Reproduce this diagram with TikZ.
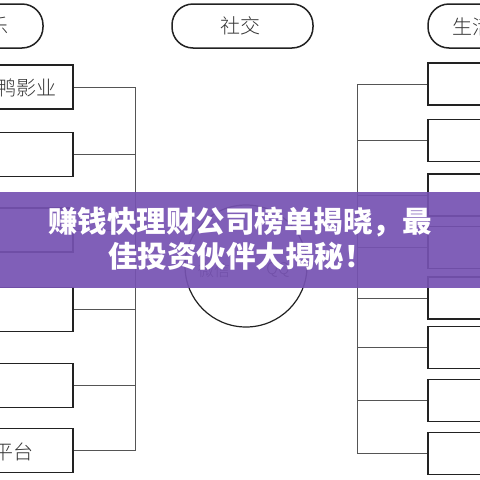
\documentclass[tikz,border=0pt]{standalone}
\usepackage{fontspec}
\newfontfamily\cjk{Noto Sans CJK SC Light}
\newfontfamily\cjkb{Noto Sans CJK SC Black}
\definecolor{boxline}{HTML}{222222}
\definecolor{connline}{HTML}{555555}
\definecolor{txt}{HTML}{333333}
\definecolor{banner}{RGB}{118,82,178}
\begin{document}
\begin{tikzpicture}[x=1pt,y=-1pt,
  hdr/.style={draw=boxline,line width=1.5pt,rounded corners=21pt,minimum height=44pt,inner sep=0pt},
  lbox/.style={draw=boxline,line width=1.6pt,minimum width=140pt,minimum height=44pt,inner sep=0pt},
  rbox/.style={draw=boxline,line width=1.6pt,minimum width=140pt,minimum height=42pt,inner sep=0pt},
  conn/.style={draw=connline,line width=0.9pt},
  lbl/.style={font=\cjk\fontsize{20}{20}\selectfont,text=txt,inner sep=0pt},
  bantext/.style={font=\cjkb\fontsize{29.5}{29.5}\selectfont,text=white,inner sep=0pt}]
\useasboundingbox (0,0) rectangle (480,480);
\clip (0,0) rectangle (480,480);
\fill[white] (0,0) rectangle (480,480);
% headers
\node[hdr,minimum width=150pt] (hL) at (-32,26) {};
\node[hdr,minimum width=141pt] (hM) at (242.5,26) {};
\node[hdr,minimum width=150pt] (hR) at (503,26) {};
\node[lbl,anchor=east] (tL) at (9,26) {娱乐};
\node[lbl] (tM) at (240.5,26) {社交};
\node[lbl,anchor=west] (tR) at (452,27) {生活};
% left boxes
\node[lbox] (L1) at (3,87) {};
\node[lbox] (L2) at (3,154.5) {};
\node[lbox] (L3) at (3,230) {};
\node[lbox] (L4) at (3,309.5) {};
\node[lbox] (L5) at (3,385.5) {};
\node[lbox] (L6) at (3,450.5) {};
\node[lbl,anchor=east] (tL1) at (57,88) {鸭影业};
\node[lbl,anchor=east] (tL6) at (34,452) {平台};
% right boxes
\node[rbox] (R1) at (498,84) {};
\node[rbox] (R2) at (498,140.5) {};
\node[rbox] (R3) at (498,195) {};
\node[rbox] (R4) at (498,247.5) {};
\node[rbox] (R5) at (498,298) {};
\node[rbox] (R6) at (498,347.5) {};
\node[rbox] (R7) at (498,400.5) {};
\node[rbox] (R8) at (498,453.5) {};
% spines
\coordinate (ls) at (135,0);
\coordinate (rs) at (357,0);
\foreach \n in {L1,L2,L3,L4,L5,L6}{\draw[conn] (\n.east) -- (\n.east -| ls);}
\draw[conn] (L1.east -| ls) -- (L6.east -| ls);
\foreach \n in {R1,R2,R3,R4,R5,R6,R7,R8}{\draw[conn] (\n.west) -- (\n.west -| rs);}
\draw[conn] (R1.west -| rs) -- (R8.west -| rs);
% circle
\node[draw=boxline,line width=1.2pt,circle,minimum size=122pt,inner sep=0pt] (C) at (246,266) {};
\node[lbl,font=\cjk\fontsize{16}{16}\selectfont] (wx) at (214,270) {微信};
\node[lbl,font=\cjk\fontsize{16}{16}\selectfont] (qq) at (278,270) {QQ};
% banner
\fill[banner,fill opacity=0.92] (0,192) rectangle (480,288);
\node[bantext] (b1) at (240,222) {赚钱快理财公司榜单揭晓，最};
\node[bantext] (b2) at (241,256) {佳投资伙伴大揭秘！};
\end{tikzpicture}
\end{document}
